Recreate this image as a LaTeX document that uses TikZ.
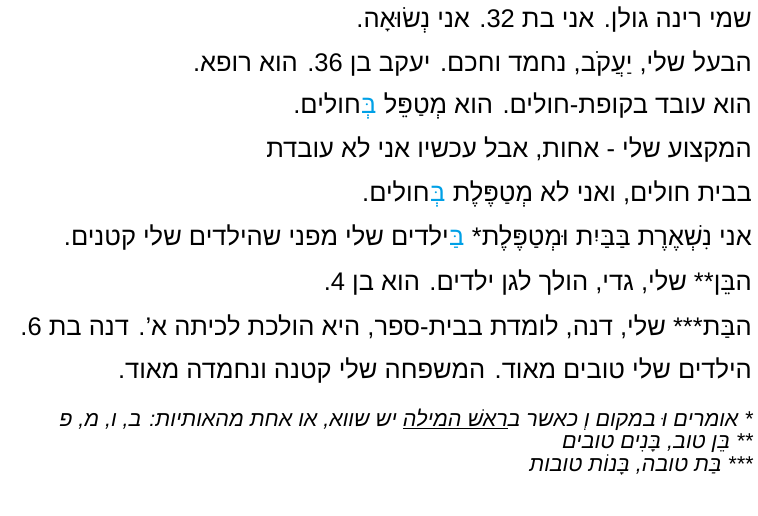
\documentclass[tikz,border=0pt]{standalone}
\usepackage{fontspec}
\setmainfont[Script=Hebrew]{Liberation Sans}
\TeXXeTstate=1
\definecolor{nblue}{RGB}{0,160,230}
\tikzset{ln/.style={anchor=east,inner sep=0pt,font=\fontsize{25.5}{28}\selectfont},
blue/.style={ln,text=nblue},
fn/.style={anchor=east,inner sep=0pt,font=\fontsize{21.5}{24}\selectfont\itshape}}
\newcommand{\LR}[1]{\beginL#1\endL}
\newcommand{\ul}[1]{$\underline{\hbox{\beginR#1\endR}}$}
\begin{document}
\begin{tikzpicture}[x=1pt,y=-1pt]
\useasboundingbox (0,0) rectangle (758,516);
\node[ln] (l1) at (752,20) {\beginR שמי רינה גולן. אני בת \LR{32}. אני נְשׂוּאָה.\endR};
\node[ln] (l2) at (752,64) {\beginR הבעל שלי, יַעֲקֹב, נחמד וחכם. יעקב בן \LR{36}. הוא רופא.\endR};
\node[ln] (l3a) at (752,106) {\beginR הוא עובד בקופת-חולים. הוא מְטַפֵּל \endR};
\node[blue,anchor=base east] (l3b) at (l3a.base west) {\beginR בְּ\endR};
\node[ln,anchor=base east] (l3c) at (l3b.base west) {\beginR חולים.\endR};
\node[ln] (l4) at (752,150) {\beginR המקצוע שלי - אחות, אבל עכשיו אני לא עובדת\endR};
\node[ln] (l5a) at (752,194) {\beginR בבית חולים, ואני לא מְטַפֶּלֶת \endR};
\node[blue,anchor=base east] (l5b) at (l5a.base west) {\beginR בְּ\endR};
\node[ln,anchor=base east] (l5c) at (l5b.base west) {\beginR חולים.\endR};
\node[ln] (l6a) at (752,238) {\beginR אני נִשְׁאֶרֶת בַּבַּיִת וּמְטַפֶּלֶת* \endR};
\node[blue,anchor=base east] (l6b) at (l6a.base west) {\beginR בַּ\endR};
\node[ln,anchor=base east] (l6c) at (l6b.base west) {\beginR ילדים שלי מפני שהילדים שלי קטנים.\endR};
\node[ln] (l7) at (752,283) {\beginR הבֵּן** שלי, גדי, הולך לגן ילדים. הוא בן \LR{4}.\endR};
\node[ln] (l8) at (752,327) {\beginR הבַּת*** שלי, דנה, לומדת בבית-ספר, היא הולכת לכיתה א'. דנה בת \LR{6}.\endR};
\node[ln] (l9) at (752,371) {\beginR הילדים שלי טובים מאוד. המשפחה שלי קטנה ונחמדה מאוד.\endR};
\node[fn] (f1) at (753,420) {\beginR * אומרים וּ במקום וְ כאשר ב\ul{ראשׁ המילה} יש שווא, או אחת מהאותיות: ב, ו, מ, פ\endR};
\node[fn] (f2) at (753,443) {\beginR ** בֵּן טוב, בָּנִים טובים\endR};
\node[fn] (f3) at (753,465) {\beginR *** בַּת טובה, בָּנוֹת טובות\endR};
\end{tikzpicture}
\end{document}
